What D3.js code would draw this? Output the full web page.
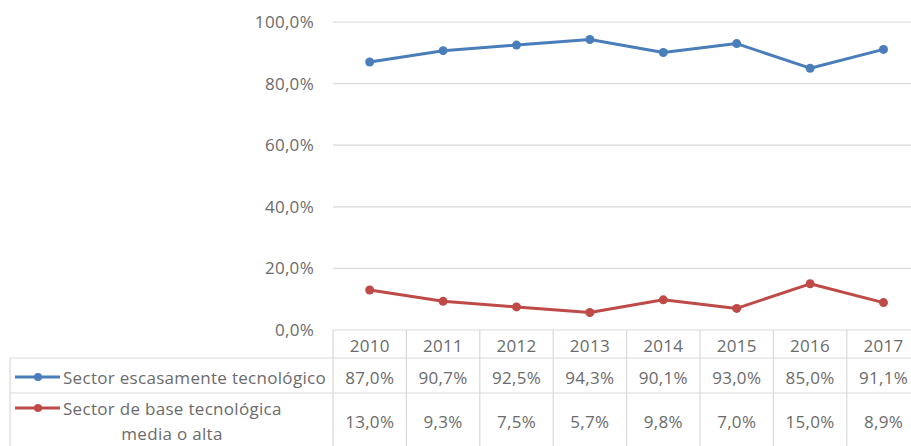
<!DOCTYPE html>
<html>
<head>
<meta charset="utf-8">
<script src="https://cdn.jsdelivr.net/npm/d3@7"></script>
<style>
  html, body { margin: 0; padding: 0; background: #fff; }
  svg { display: block; }
  text { font-family: "Open Sans", sans-serif; fill: #6b6b6b; letter-spacing: 0.3px; }
</style>
</head>
<body>
<svg id="chart" width="911" height="446"></svg>
<script>
const years = ["2010","2011","2012","2013","2014","2015","2016","2017"];
const seriesNames = ["Sector escasamente tecnológico", "Sector de base tecnológica media o alta"];
const seriesLabelLines = [["Sector escasamente tecnológico"], ["Sector de base tecnológica", "media o alta"]];
const escasamente = [87.0, 90.7, 92.5, 94.3, 90.1, 93.0, 85.0, 91.1];
const baseMediaAlta = [13.0, 9.3, 7.5, 5.7, 9.8, 7.0, 15.0, 8.9];
const yTicks = [0, 20, 40, 60, 80, 100];
const colors = ["#4a7ebb", "#be4b48"];

const locale = d3.formatLocale({decimal: ",", thousands: ".", grouping: [3], currency: ["", "€"]});
const fmt = v => locale.format(".1f")(v) + "%";

const svg = d3.select("#chart");
const W = 911, H = 446;
const FS = "17px";

const x = d3.scaleBand().domain(years).range([333, 333 + 8 * 73.4]).padding(0);
const y = d3.scaleLinear().domain([0, 100]).range([330, 22]);

const gridColor = "#d9d9d9";

// gridlines
svg.append("g").selectAll("line").data(yTicks.filter(t => t > 0)).join("line")
  .attr("x1", x.range()[0]).attr("x2", W)
  .attr("y1", d => y(d)).attr("y2", d => y(d))
  .attr("stroke", gridColor).attr("stroke-width", 1.2);

// y axis labels
const yAxis = d3.axisLeft(y).tickValues(yTicks).tickFormat(fmt).tickSize(0).tickPadding(19);
const gy = svg.append("g").attr("transform", `translate(${x.range()[0]},0)`).call(yAxis);
gy.select(".domain").remove();
gy.selectAll("text").style("font-size", FS).attr("fill", "#6b6b6b").style("font-family", '"Open Sans", sans-serif');

// table
const tTop = 330, r1Top = 358, r2Top = 393, tBottom = 446, tLeft = 10;
const tbl = svg.append("g");
tbl.append("line").attr("x1", x.range()[0]).attr("x2", W).attr("y1", tTop).attr("y2", tTop).attr("stroke", gridColor).attr("stroke-width", 1.2);
[r1Top, r2Top].forEach(yy => tbl.append("line").attr("x1", tLeft).attr("x2", W).attr("y1", yy).attr("y2", yy).attr("stroke", gridColor).attr("stroke-width", 1.2));
tbl.append("line").attr("x1", tLeft).attr("x2", tLeft).attr("y1", r1Top).attr("y2", tBottom).attr("stroke", gridColor).attr("stroke-width", 1.2);
tbl.selectAll("line.v").data(years).join("line").attr("class", "v")
  .attr("x1", d => x(d)).attr("x2", d => x(d)).attr("y1", tTop).attr("y2", tBottom)
  .attr("stroke", gridColor).attr("stroke-width", 1.2);

// header years
tbl.selectAll("text.yr").data(years).join("text").attr("class", "yr")
  .attr("x", d => x(d) + x.bandwidth() / 2).attr("y", 345)
  .attr("text-anchor", "middle").attr("dominant-baseline", "central")
  .style("font-size", FS).text(d => d);

const allSeries = [escasamente, baseMediaAlta];
const rowValueY = [377, 421];
allSeries.forEach((vals, i) => {
  tbl.selectAll(`text.val${i}`).data(vals).join("text").attr("class", `val${i}`)
    .attr("x", (d, j) => x(years[j]) + x.bandwidth() / 2).attr("y", rowValueY[i])
    .attr("text-anchor", "middle").attr("dominant-baseline", "central")
    .style("font-size", FS).text(d => fmt(d));
});

// legend keys in table
const keyY = [377, 408];
keyY.forEach((ky, i) => {
  tbl.append("line").attr("x1", 15).attr("x2", 60).attr("y1", ky).attr("y2", ky)
    .attr("stroke", colors[i]).attr("stroke-width", 3);
  tbl.append("circle").attr("cx", 38).attr("cy", ky).attr("r", 4).attr("fill", colors[i]);
});
tbl.append("text").attr("x", 63).attr("y", 377).attr("dominant-baseline", "central")
  .style("font-size", FS).text(seriesLabelLines[0][0]);
tbl.append("text").attr("x", 63).attr("y", 408).attr("dominant-baseline", "central")
  .style("font-size", FS).text(seriesLabelLines[1][0]);
tbl.append("text").attr("x", 172).attr("y", 433).attr("text-anchor", "middle").attr("dominant-baseline", "central")
  .style("font-size", FS).text(seriesLabelLines[1][1]);

// lines
const line = d3.line().x((d, j) => x(years[j]) + x.bandwidth() / 2).y(d => y(d));
allSeries.forEach((vals, i) => {
  svg.append("path").datum(vals).attr("d", line).attr("fill", "none")
    .attr("stroke", colors[i]).attr("stroke-width", 3).attr("stroke-linejoin", "round");
  svg.append("g").selectAll("circle").data(vals).join("circle")
    .attr("cx", (d, j) => x(years[j]) + x.bandwidth() / 2).attr("cy", d => y(d))
    .attr("r", 4.5).attr("fill", colors[i]);
});
</script>
</body>
</html>
